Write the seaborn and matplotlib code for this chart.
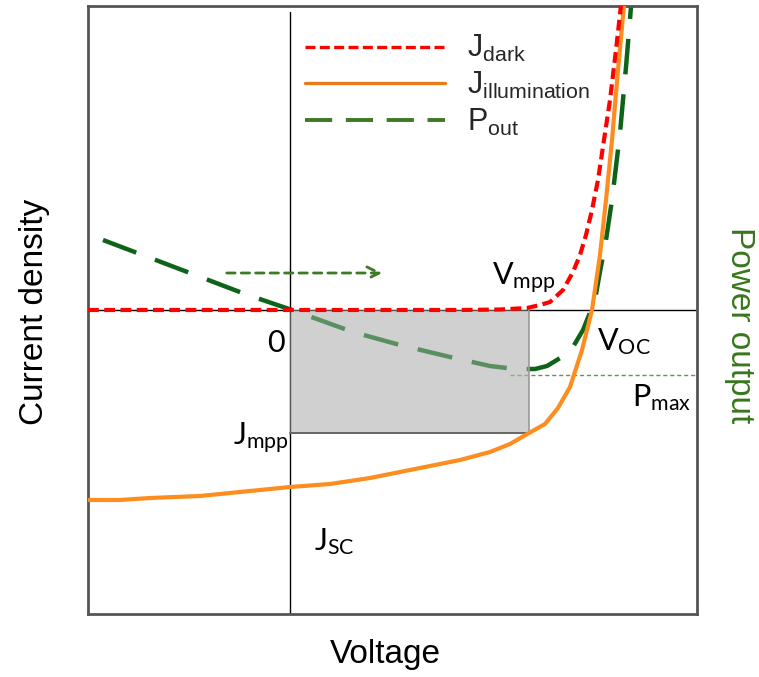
import numpy as np
import pandas as pd
import matplotlib
matplotlib.use("Agg")
import matplotlib.pyplot as plt
from matplotlib.lines import Line2D
from matplotlib.patches import Rectangle
import seaborn as sns

# Schematic J-V characteristics of a solar cell (arbitrary units)
v_dark = [-2.02, 0.10, 1.70, 2.10, 2.37, 2.50, 2.60, 2.73, 2.83, 2.90, 2.96, 3.02, 3.08, 3.14, 3.20, 3.26, 3.31]
j_dark = [0.00, 0.00, 0.00, 0.005, 0.02, 0.05, 0.08, 0.20, 0.38, 0.55, 0.75, 1.00, 1.30, 1.70, 2.10, 2.60, 3.05]

v_light = [-2.02, -1.70, -1.40, -0.90, -0.40, 0.00, 0.40, 0.80, 1.10, 1.40, 1.70, 2.00, 2.20,
           2.39, 2.55, 2.68, 2.80, 2.92, 3.02, 3.10, 3.16, 3.22, 3.28, 3.34]
j_light = [-1.90, -1.90, -1.88, -1.86, -1.81, -1.77, -1.74, -1.68, -1.62, -1.56, -1.50, -1.42, -1.34,
           -1.23, -1.14, -0.98, -0.77, -0.40, 0.00, 0.55, 1.10, 1.70, 2.40, 3.05]

v_pout = [-1.87, -1.00, -0.45, 0.02, 0.63, 1.10, 1.60, 2.00, 2.25, 2.45, 2.57, 2.80, 2.93,
          3.05, 3.09, 3.16, 3.22, 3.30, 3.36, 3.41]
p_out = [0.70, 0.37, 0.16, 0.00, -0.22, -0.35, -0.47, -0.56, -0.59, -0.59, -0.56, -0.42, -0.20,
         0.10, 0.33, 0.70, 1.10, 1.77, 2.43, 3.03]

v_mpp, j_mpp = 2.39, -1.23   # maximum power point
p_max = -0.65

sns.set_theme(style="white")
plt.rcParams["font.family"] = ["Liberation Sans", "DejaVu Sans"]

fig = plt.figure(figsize=(7.59, 6.77), dpi=100)
ax = fig.add_axes([88 / 759, 1 - 614 / 677, 609 / 759, 608 / 677])

df_dark = pd.DataFrame({"V": v_dark, "J": j_dark})
df_light = pd.DataFrame({"V": v_light, "J": j_light})
df_pout = pd.DataFrame({"V": v_pout, "P": p_out})

red = "#ff0000"
orange = "#fd8d1e"
dgreen = "#0d6418"
lgreen = "#3c7a24"

# axes through the origin
ax.axhline(0, color="black", lw=1.0, zorder=1)
ax.axvline(0, ymax=0.99, color="black", lw=1.0, zorder=1)

# maximum power rectangle
ax.add_patch(Rectangle((0, j_mpp), v_mpp, -j_mpp, facecolor="#d0d0d0",
                       edgecolor="none", zorder=0.5))

sns.lineplot(data=df_light, x="V", y="J", sort=False, estimator=None, ax=ax,
             color=orange, lw=3.0, zorder=3)
sns.lineplot(data=df_pout, x="V", y="P", sort=False, estimator=None, ax=ax,
             color=dgreen, lw=3.2, zorder=2, dashes=False,
             linestyle=(0, (8, 4.5)))
# translucent overlay that softens the power curve inside the rectangle
ax.add_patch(Rectangle((0, j_mpp), v_mpp, -j_mpp, facecolor="#d0d0d0",
                       edgecolor="none", alpha=0.4, zorder=2.5))
ax.plot([v_mpp, v_mpp], [j_mpp, 0], color="#999999", lw=1.2, zorder=2.6)
ax.plot([0, v_mpp], [j_mpp, j_mpp], color="#666666", lw=1.4, zorder=2.6)

sns.lineplot(data=df_dark, x="V", y="J", sort=False, estimator=None, ax=ax,
             color=red, lw=3.0, zorder=4, dashes=False,
             linestyle=(0, (2.6, 1.3)))

# P_max guide and direction arrow
ax.plot([2.20, 4.07], [p_max, p_max], color="#5e9a4a", lw=1.0,
        linestyle=(0, (3, 2)), zorder=2)
ax.annotate("", xy=(0.95, 0.37), xytext=(-0.66, 0.37),
            arrowprops=dict(arrowstyle="->", color=lgreen, lw=2.0,
                            linestyle=(0, (3, 2.2)), mutation_scale=22))

ax.set_xlim(-2.02, 4.07)
ax.set_ylim(-3.04, 3.04)
ax.set_xticks([])
ax.set_yticks([])
ax.set_xlabel("")
ax.set_ylabel("")
for s in ax.spines.values():
    s.set_color("#555555")
    s.set_linewidth(2.0)

# point labels
lab = dict(family=["Lato", "DejaVu Sans"], fontsize=22, color="black", va="baseline")
ax.text(-0.05, -0.42, "0", ha="right", **lab)
ax.text(-0.01, -1.35, r"$\mathregular{J_{mpp}}$", ha="right", **lab)
ax.text(0.24, -2.40, r"$\mathregular{J_{SC}}$", ha="left", **lab)
ax.text(3.07, -0.40, r"$\mathregular{V_{OC}}$", ha="left", **lab)
ax.text(3.42, -0.96, r"$\mathregular{P_{max}}$", ha="left", **lab)
ax.text(2.02, 0.25, r"$\mathregular{V_{mpp}}$", ha="left", **lab)

# legend
handles = [
    Line2D([], [], color=red, lw=2.4, linestyle=(0, (3, 1.3))),
    Line2D([], [], color="#ea7a1e", lw=2.4),
    Line2D([], [], color=lgreen, lw=2.8, linestyle=(0, (7, 3.5))),
]
labels = [r"$\mathregular{J_{dark}}$", r"$\mathregular{J_{illumination}}$", r"$\mathregular{P_{out}}$"]
ax.legend(handles, labels, loc="upper left", bbox_to_anchor=(0.356, 0.955),
          frameon=False, fontsize=22, handlelength=4.58, handletextpad=0.72,
          labelspacing=0.18, borderpad=0, borderaxespad=0)

fig.text(35 / 759, 1 - 312 / 677, "Current density", rotation=90, fontsize=24,
         ha="center", va="center", color="black")
fig.text(385 / 759, 1 - 655 / 677, "Voltage", fontsize=24,
         ha="center", va="center", color="black")
fig.text(740 / 759, 1 - 325 / 677, "Power output", rotation=270, fontsize=24,
         ha="center", va="center", color="#38761d")

fig.savefig("out.png", dpi=100)
